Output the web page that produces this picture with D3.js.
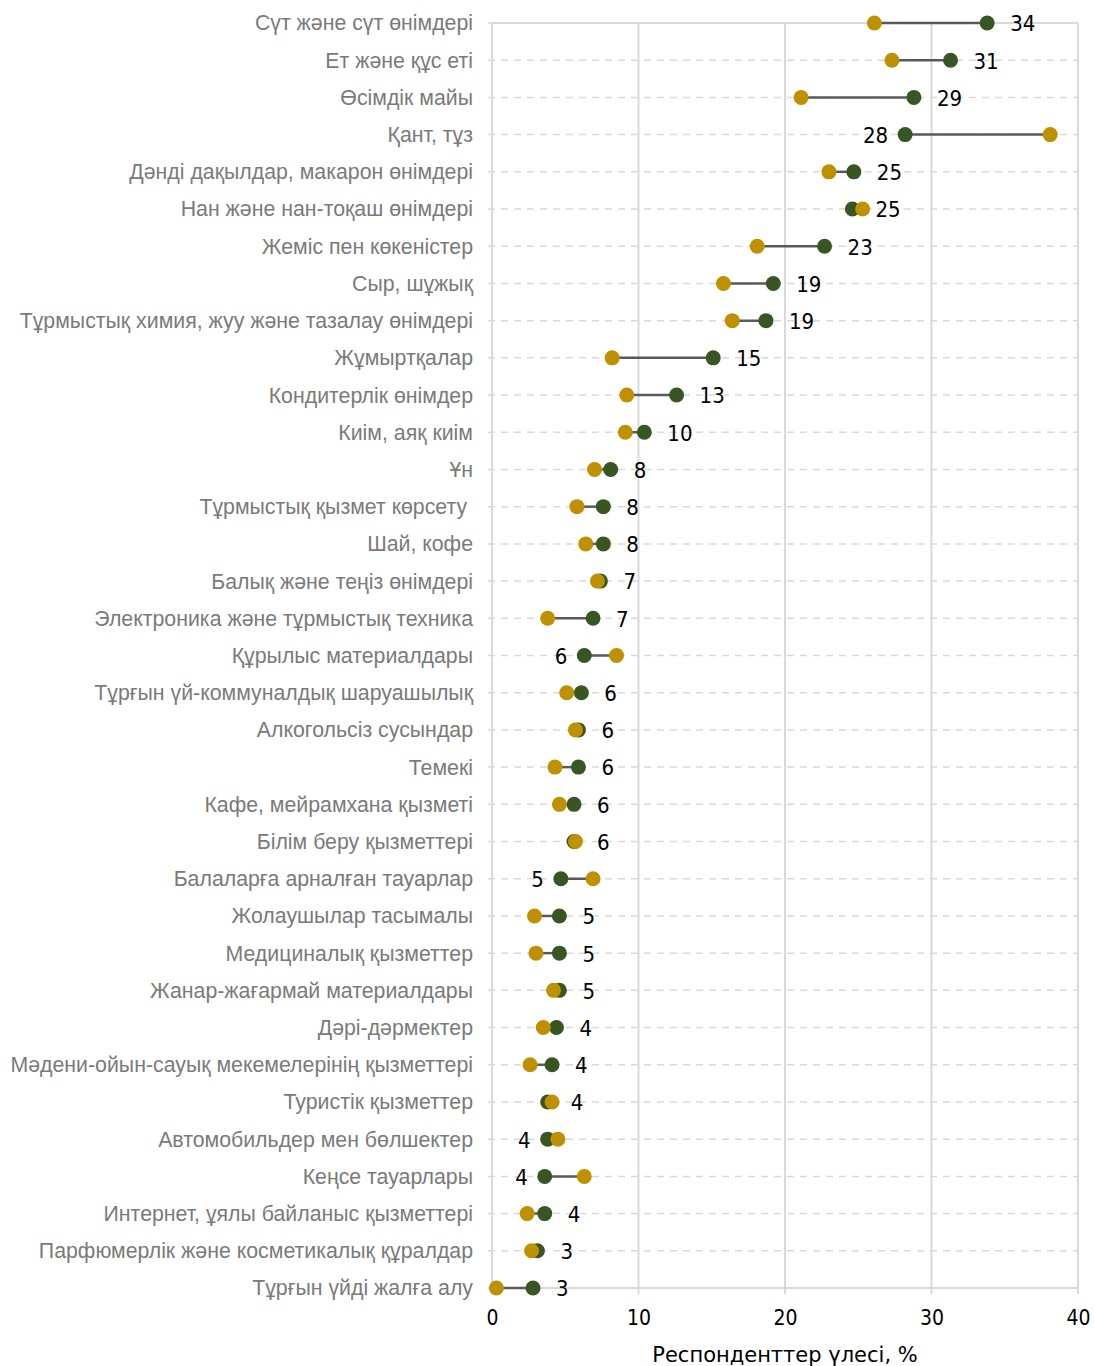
<!DOCTYPE html>
<html>
<head>
<meta charset="utf-8">
<script src="https://cdn.jsdelivr.net/npm/d3@7"></script>
<style>
  body { margin: 0; background: #fff; }
</style>
</head>
<body>
<div id="chart"></div>
<script>
// categories, top to bottom
var categories = [
  "Сүт және сүт өнімдері",
  "Ет және құс еті",
  "Өсімдік майы",
  "Қант, тұз",
  "Дәнді дақылдар, макарон өнімдері",
  "Нан және нан-тоқаш өнімдері",
  "Жеміс пен көкеністер",
  "Сыр, шұжық",
  "Тұрмыстық химия, жуу және тазалау өнімдері",
  "Жұмыртқалар",
  "Кондитерлік өнімдер",
  "Киім, аяқ киім",
  "Ұн",
  "Тұрмыстық қызмет көрсету ",
  "Шай, кофе",
  "Балық және теңіз өнімдері",
  "Электроника және тұрмыстық техника",
  "Құрылыс материалдары",
  "Тұрғын үй-коммуналдық шаруашылық",
  "Алкогольсіз сусындар",
  "Темекі",
  "Кафе, мейрамхана қызметі",
  "Білім беру қызметтері",
  "Балаларға арналған тауарлар",
  "Жолаушылар тасымалы",
  "Медициналық қызметтер",
  "Жанар-жағармай материалдары",
  "Дәрі-дәрмектер",
  "Мәдени-ойын-сауық мекемелерінің қызметтері",
  "Туристік қызметтер",
  "Автомобильдер мен бөлшектер",
  "Кеңсе тауарлары",
  "Интернет, ұялы байланыс қызметтері",
  "Парфюмерлік және косметикалық құралдар",
  "Тұрғын үйді жалға алу"
];

// green series (labelled)
var current = [33.8, 31.3, 28.8, 28.2, 24.7, 24.6, 22.7, 19.2, 18.7, 15.1,
  12.6, 10.4, 8.1, 7.6, 7.6, 7.4, 6.9, 6.3, 6.1, 5.9,
  5.9, 5.6, 5.6, 4.7, 4.6, 4.6, 4.6, 4.4, 4.1, 3.8,
  3.8, 3.6, 3.6, 3.1, 2.8];

// gold series
var previous = [26.1, 27.3, 21.1, 38.1, 23.0, 25.3, 18.1, 15.8, 16.4, 8.2,
  9.2, 9.1, 7.0, 5.8, 6.4, 7.2, 3.8, 8.5, 5.1, 5.7,
  4.3, 4.6, 5.7, 6.9, 2.9, 3.0, 4.2, 3.5, 2.6, 4.1,
  4.5, 6.3, 2.4, 2.7, 0.3];

// rows whose value label sits left of the green dot
var labelLeft = ["Қант, тұз", "Құрылыс материалдары", "Балаларға арналған тауарлар",
  "Автомобильдер мен бөлшектер", "Кеңсе тауарлары"];

var xTicks = [0, 10, 20, 30, 40];

var data = categories.map(function (c, i) {
  return { name: c, cur: current[i], prev: previous[i] };
});

var margin = {top: 23, right: 17, bottom: 78, left: 492},
    width = 1095 - margin.left - margin.right,
    height = 1366 - margin.top - margin.bottom;

var numFont = "'DejaVu Sans Condensed', 'DejaVu Sans', sans-serif";

var svg = d3.select("#chart").append("svg")
    .attr("width", 1095)
    .attr("height", 1366)
  .append("g")
    .attr("transform", "translate(" + margin.left + "," + margin.top + ")");

var x = d3.scaleLinear().domain([0, 40]).range([0, width]);
var y = d3.scalePoint().domain(categories).range([0, height]).padding(0);

// horizontal dashed gridlines
svg.append("g").selectAll("line")
  .data(categories)
  .enter().append("line")
    .attr("x1", -4).attr("x2", width)
    .attr("y1", d => y(d)).attr("y2", d => y(d))
    .style("stroke", "#d9d9d9")
    .style("stroke-width", 1.5)
    .style("stroke-dasharray", "7,6");

// vertical gridlines
svg.append("g").selectAll("line")
  .data(xTicks)
  .enter().append("line")
    .attr("x1", d => x(d)).attr("x2", d => x(d))
    .attr("y1", 0).attr("y2", height + 6)
    .style("stroke", "#d9d9d9")
    .style("stroke-width", 2);

// top and bottom frame lines
svg.append("line").attr("x1", 0).attr("x2", width).attr("y1", 0).attr("y2", 0)
  .style("stroke", "#d9d9d9").style("stroke-width", 2);
svg.append("line").attr("x1", 0).attr("x2", width).attr("y1", height).attr("y2", height)
  .style("stroke", "#d9d9d9").style("stroke-width", 2);

// x axis labels
var xAxis = svg.append("g")
    .attr("transform", "translate(0," + height + ")")
    .call(d3.axisBottom(x).tickValues(xTicks).tickSize(0).tickPadding(22));
xAxis.select(".domain").remove();
xAxis.selectAll("text")
    .style("font-family", numFont)
    .style("font-size", "21px")
    .style("fill", "#000");

svg.append("text")
    .attr("x", width / 2)
    .attr("y", height + 74)
    .attr("text-anchor", "middle")
    .style("font-family", "'DejaVu Sans', sans-serif")
    .style("font-size", "21px")
    .style("fill", "#000")
    .text("Респонденттер үлесі, %");

// category labels
svg.append("g").selectAll("text")
  .data(data)
  .enter().append("text")
    .attr("x", -19)
    .attr("y", d => y(d.name))
    .attr("dy", "0.35em")
    .attr("text-anchor", "end")
    .style("white-space", "pre")
    .style("font-family", "'Liberation Sans', Arial, sans-serif")
    .style("font-size", "21.3px")
    .style("fill", "#7a7a7a")
    .text(d => d.name);

// connectors
svg.append("g").selectAll("line")
  .data(data)
  .enter().append("line")
    .attr("x1", d => x(d.cur)).attr("x2", d => x(d.prev))
    .attr("y1", d => y(d.name)).attr("y2", d => y(d.name))
    .style("stroke", "#595959")
    .style("stroke-width", 2.5);

// green dots
svg.append("g").selectAll("circle")
  .data(data)
  .enter().append("circle")
    .attr("cx", d => x(d.cur))
    .attr("cy", d => y(d.name))
    .attr("r", 7.5)
    .style("fill", "#375623");

// gold dots
svg.append("g").selectAll("circle")
  .data(data)
  .enter().append("circle")
    .attr("cx", d => x(d.prev))
    .attr("cy", d => y(d.name))
    .attr("r", 7.5)
    .style("fill", "#bf9000");

// value labels
svg.append("g").selectAll("text")
  .data(data)
  .enter().append("text")
    .attr("x", d => labelLeft.includes(d.name) ? x(d.cur) - 17 : x(d.cur) + 23)
    .attr("y", d => y(d.name))
    .attr("dy", "0.38em")
    .attr("text-anchor", d => labelLeft.includes(d.name) ? "end" : "start")
    .style("font-family", numFont)
    .style("font-size", "22px")
    .style("fill", "#000")
    .text(d => Math.round(d.cur));
</script>
</body>
</html>
